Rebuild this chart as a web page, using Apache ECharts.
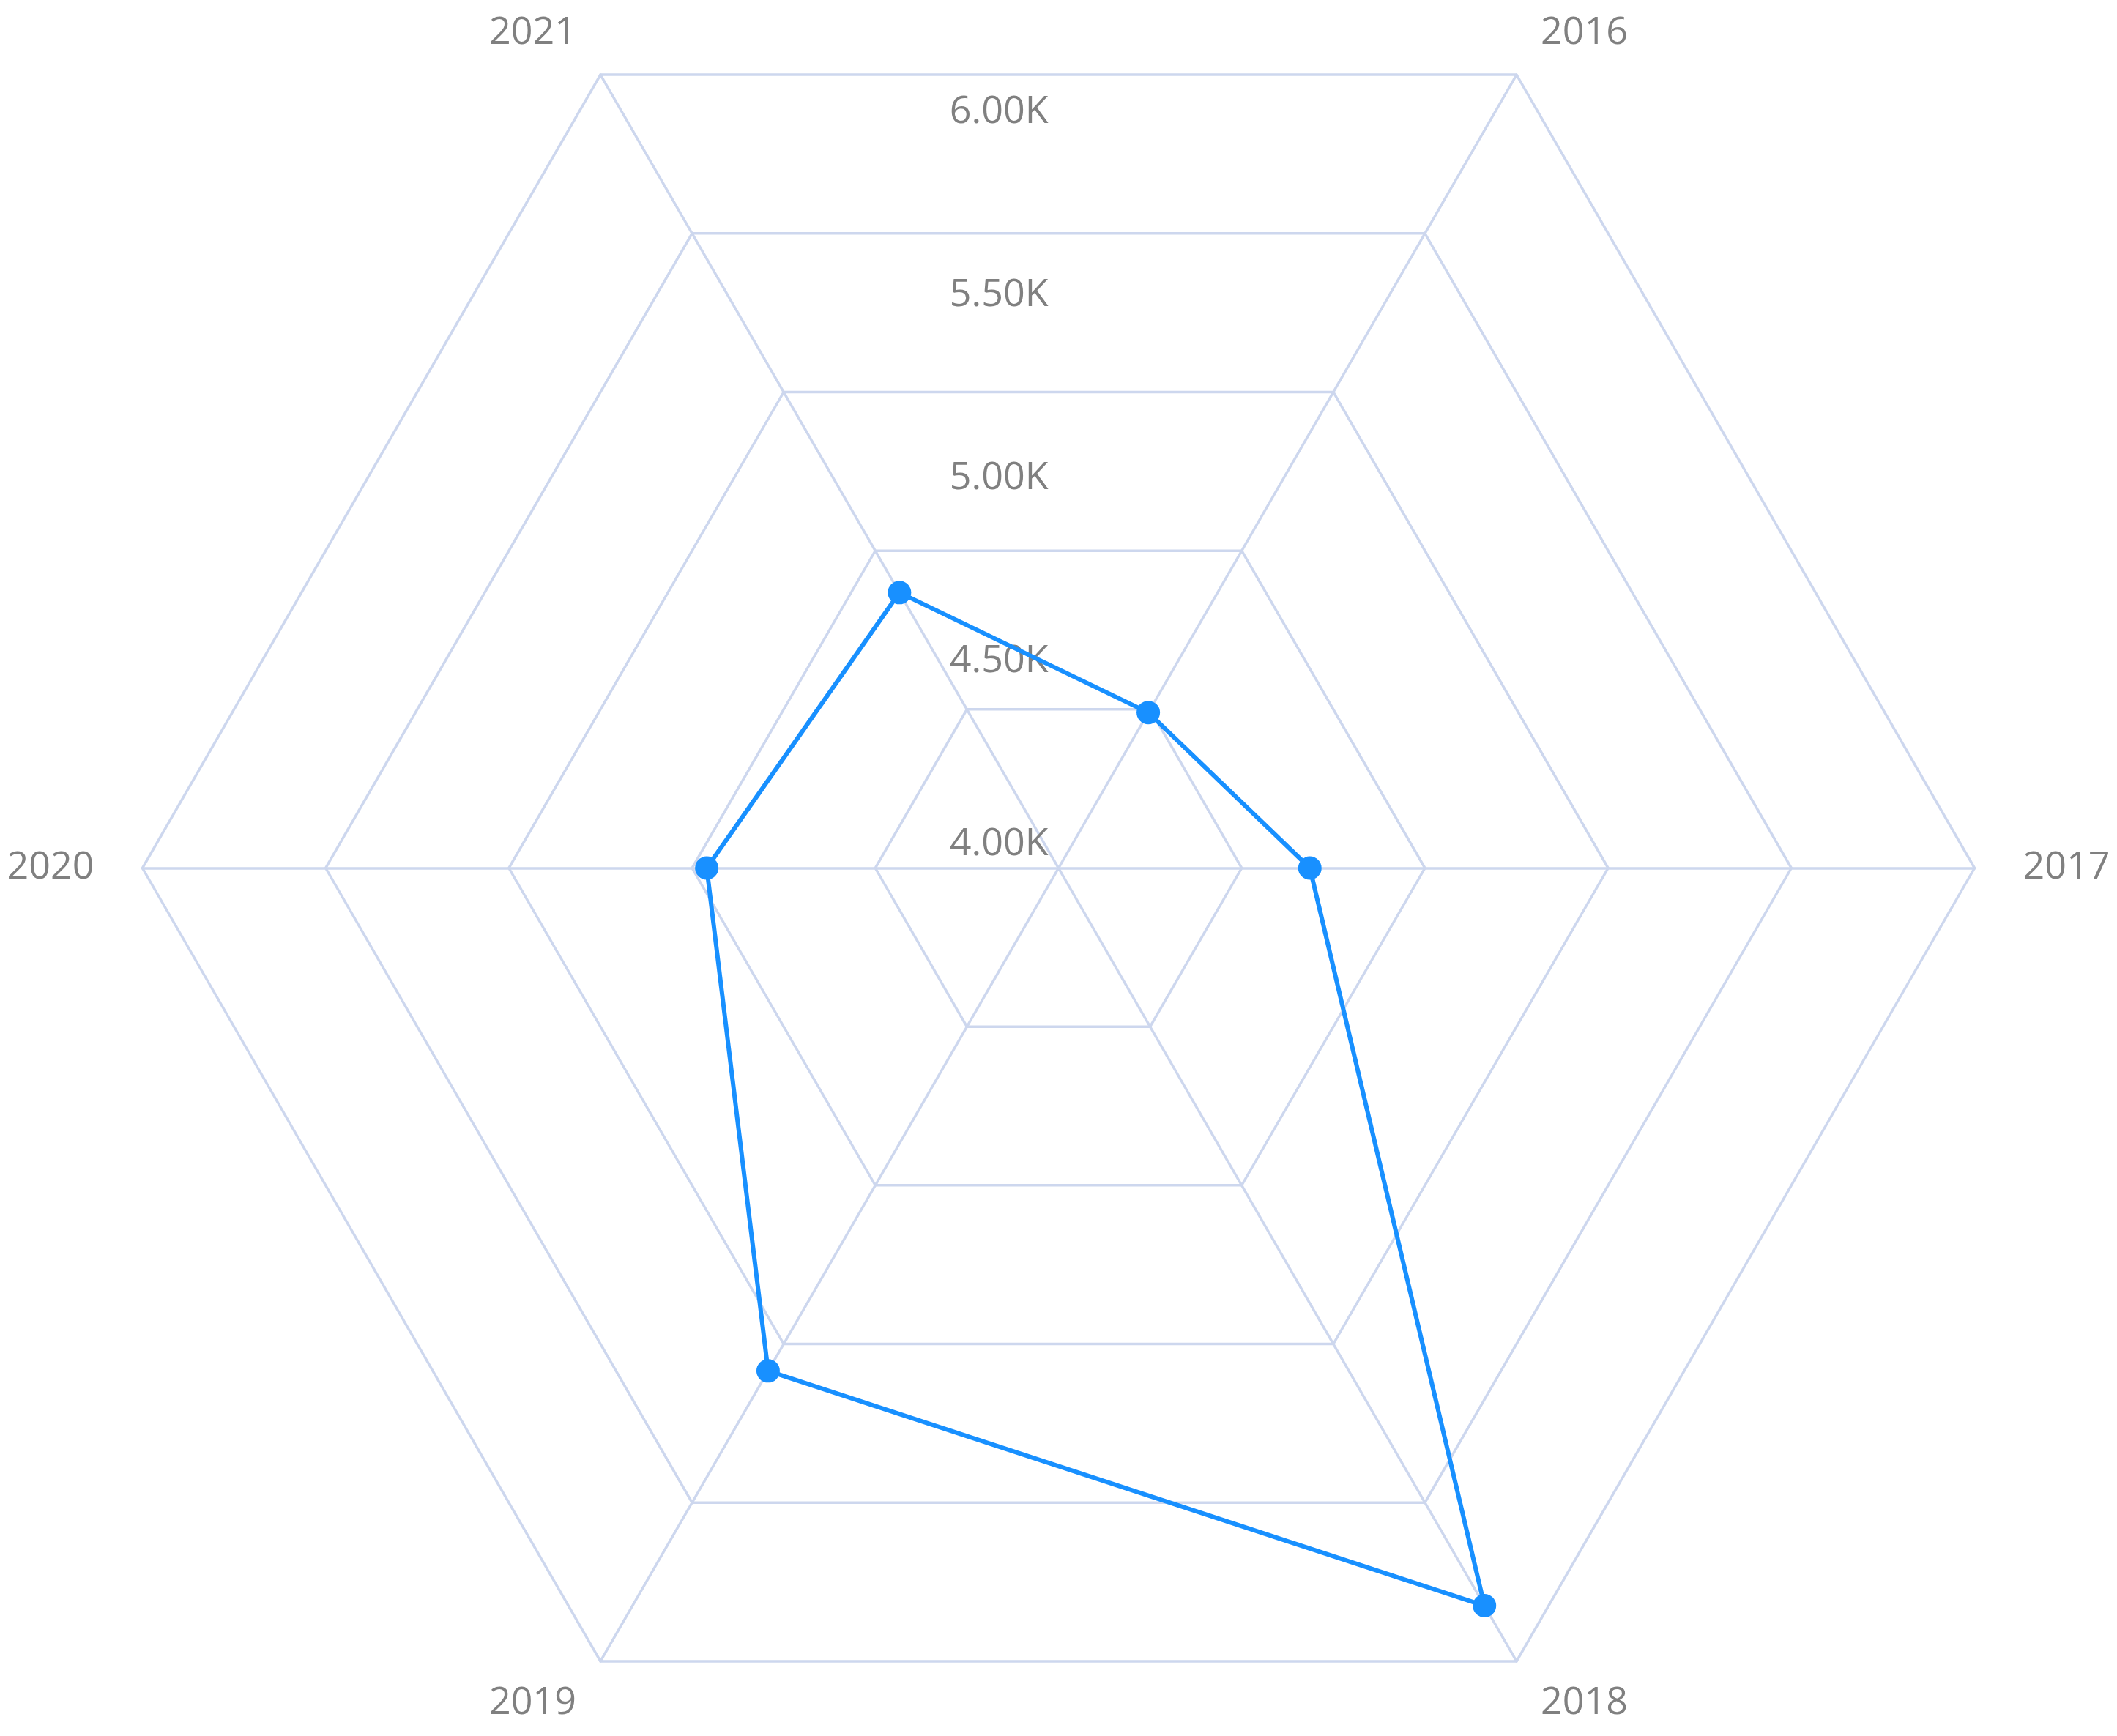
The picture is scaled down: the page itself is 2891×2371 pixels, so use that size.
<!DOCTYPE html>
<html>
<head>
<meta charset="utf-8">
<style>
  html, body { margin: 0; padding: 0; background: #fff; }
  #chart { width: 2891px; height: 2371px; }
</style>
<script src="https://cdn.jsdelivr.net/npm/echarts@6/dist/echarts.min.js"></script>
</head>
<body>
<div id="chart"></div>
<script>
  // data
  const years = ['2016', '2017', '2018', '2019', '2020', '2021'];
  const values = [4490, 4686, 6325, 5585, 4960, 4868];
  const axisMin = 4000;
  const axisMax = 6500;
  const tickStep = 500;

  // radar runs counter-clockwise, the picture runs clockwise from 2016
  const order = [0].concat(years.slice(1).map((_, i) => years.length - 1 - i));

  const gridColor = '#cdd7ee';
  const textColor = '#808080';
  const font = '"Open Sans", "Noto Sans", sans-serif';

  const chart = echarts.init(document.getElementById('chart'));
  const option = {
    backgroundColor: '#fff',
    animation: false,
    radar: {
      center: ['50%', '50%'],
      radius: 1251,
      startAngle: 60,
      shape: 'polygon',
      splitNumber: 5,
      indicator: order.map((i) => ({ name: years[i], min: axisMin, max: axisMax })),
      axisName: {
        color: textColor,
        fontSize: 52,
        fontFamily: font,
      },
      nameGap: 66,
      axisLine: { lineStyle: { color: gridColor, width: 3.5 } },
      splitLine: { lineStyle: { color: gridColor, width: 3.5 } },
      splitArea: { show: false },
      axisTick: { show: false },
      axisLabel: { show: false },
    },
    // a hidden polar system only carries the vertical value labels
    polar: {
      center: ['50%', '50%'],
      radius: 1251,
    },
    angleAxis: {
      type: 'value',
      startAngle: 90,
      min: 0,
      max: 360,
      show: false,
    },
    radiusAxis: {
      type: 'value',
      min: axisMin,
      max: axisMax,
      interval: tickStep,
      axisLine: { show: false },
      axisTick: { show: false },
      splitLine: { show: false },
      axisLabel: {
        show: true,
        showMaxLabel: false,
        margin: 14,
        color: textColor,
        fontSize: 52,
        fontFamily: font,
        verticalAlign: 'bottom',
        padding: [0, 0, 6, 0],
        formatter: (v) => (v >= axisMax ? '' : (v / 1000).toFixed(2) + 'K'),
      },
    },
    series: [
      {
        type: 'radar',
        symbol: 'circle',
        symbolSize: 32,
        lineStyle: { color: '#1890ff', width: 6 },
        itemStyle: { color: '#1890ff' },
        data: [{ value: order.map((i) => values[i]) }],
      },
    ],
  };
  chart.setOption(option);
</script>
</body>
</html>
